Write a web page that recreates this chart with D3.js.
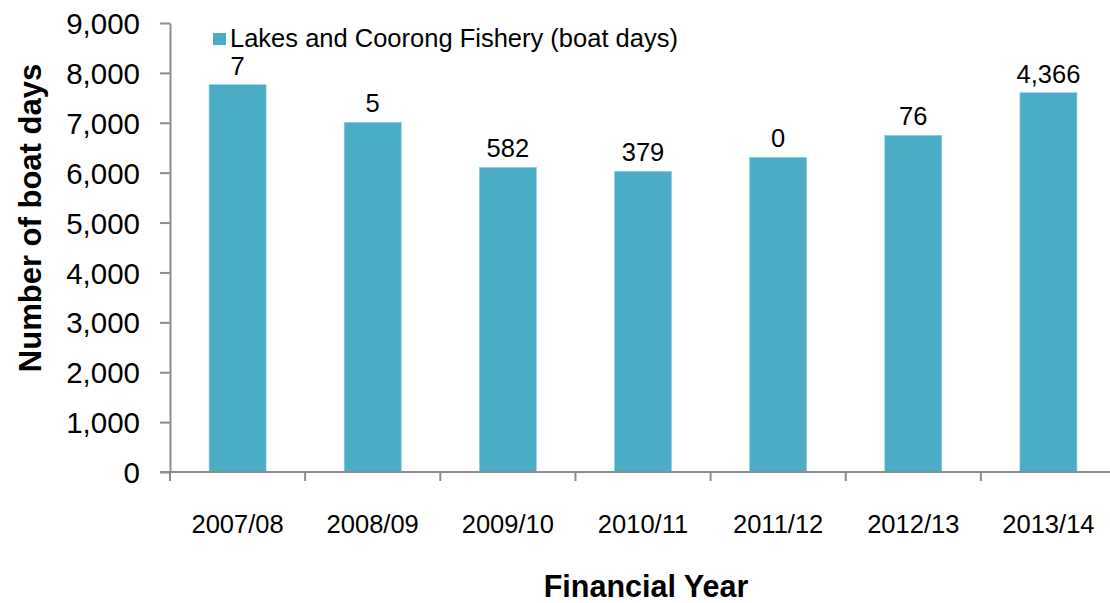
<!DOCTYPE html>
<html>
<head>
<meta charset="utf-8">
<script src="https://cdn.jsdelivr.net/npm/d3@7"></script>
<style>
  html, body { margin: 0; padding: 0; background: #fff; }
  svg { display: block; font-family: Arial, "Liberation Sans", Helvetica, sans-serif; }
</style>
</head>
<body>
<svg id="chart" width="1110" height="603"></svg>
<script>
// Financial years on the category axis
const years = ["2007/08", "2008/09", "2009/10", "2010/11", "2011/12", "2012/13", "2013/14"];
// Boat days per year (bar heights)
const boatDays = [7763, 7009, 6107, 6027, 6308, 6749, 7603];
// Annotations printed above each bar
const barLabels = ["7", "5", "582", "379", "0", "76", "4,366"];
// Y axis ticks
const yTicks = [0, 1000, 2000, 3000, 4000, 5000, 6000, 7000, 8000, 9000];
const seriesName = "Lakes and Coorong Fishery (boat days)";

const svg = d3.select("#chart");
const axisColor = "#8c8c8c";
const barColor = "#4bacc6";

const x = d3.scaleBand()
  .domain(years)
  .range([170, 1116])
  .paddingInner(0.578)
  .paddingOuter(0.289);

const y = d3.scaleLinear()
  .domain([0, 9000])
  .range([472, 23]);

// Bars
svg.append("g")
  .selectAll("rect")
  .data(years)
  .join("rect")
  .attr("x", d => x(d))
  .attr("y", (d, i) => y(boatDays[i]))
  .attr("width", x.bandwidth())
  .attr("height", (d, i) => y(0) - y(boatDays[i]))
  .attr("fill", barColor)
  .attr("stroke", "#8fd0e0")
  .attr("stroke-width", 0.6);

// Labels above bars
svg.append("g")
  .selectAll("text")
  .data(years)
  .join("text")
  .attr("x", d => x(d) + x.bandwidth() / 2)
  .attr("y", (d, i) => y(boatDays[i]) - 10)
  .attr("text-anchor", "middle")
  .attr("font-size", 25.5)
  .attr("fill", "#000")
  .text((d, i) => barLabels[i]);

// Y axis
const yAxis = d3.axisLeft(y)
  .tickValues(yTicks)
  .tickSize(10)
  .tickSizeOuter(0)
  .tickPadding(20)
  .tickFormat(d3.format(","));

const gy = svg.append("g")
  .attr("transform", "translate(170,0)")
  .call(yAxis);
gy.select(".domain").attr("stroke", axisColor).attr("stroke-width", 2);
gy.selectAll(".tick line").attr("stroke", axisColor).attr("stroke-width", 2);
gy.selectAll(".tick text")
  .attr("font-size", 29.5)
  .attr("font-family", "Arial, 'Liberation Sans', sans-serif")
  .attr("fill", "#000")
  .attr("dy", "0.36em");

// X axis: baseline with ticks at category boundaries
const step = x.step();
const x0 = x.range()[0];
const gx = svg.append("g").attr("transform", `translate(0,${y(0)})`);
gx.append("line")
  .attr("x1", x0 - 10).attr("x2", x.range()[1])
  .attr("y1", 0).attr("y2", 0)
  .attr("stroke", axisColor).attr("stroke-width", 2);
gx.selectAll("line.boundary")
  .data(d3.range(years.length + 1))
  .join("line")
  .attr("class", "boundary")
  .attr("x1", i => x0 + i * step)
  .attr("x2", i => x0 + i * step)
  .attr("y1", 0).attr("y2", 9)
  .attr("stroke", axisColor).attr("stroke-width", 2);
gx.selectAll("text")
  .data(years)
  .join("text")
  .attr("x", d => x(d) + x.bandwidth() / 2)
  .attr("y", 61)
  .attr("text-anchor", "middle")
  .attr("font-size", 25.5)
  .attr("fill", "#000")
  .text(d => d);

// Axis titles
svg.append("text")
  .attr("transform", "translate(41,218) rotate(-90)")
  .attr("text-anchor", "middle")
  .attr("font-size", 31)
  .attr("font-weight", "bold")
  .attr("fill", "#000")
  .text("Number of boat days");

svg.append("text")
  .attr("x", 646)
  .attr("y", 597)
  .attr("text-anchor", "middle")
  .attr("font-size", 30.5)
  .attr("font-weight", "bold")
  .attr("fill", "#000")
  .text("Financial Year");

// Legend
const legend = svg.append("g").attr("transform", "translate(213,33)");
legend.append("rect")
  .attr("width", 13).attr("height", 12)
  .attr("fill", barColor);
legend.append("text")
  .attr("x", 17)
  .attr("y", 14)
  .attr("font-size", 25.5)
  .attr("fill", "#000")
  .text(seriesName);
</script>
</body>
</html>
